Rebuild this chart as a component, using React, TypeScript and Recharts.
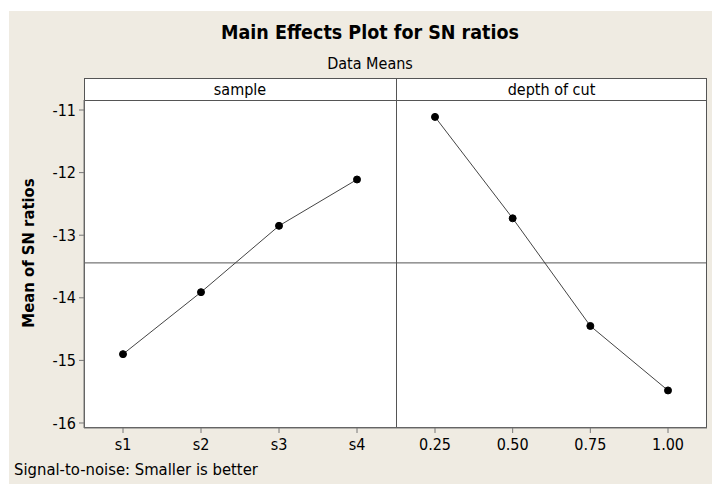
import React from "react";
import {
  LineChart,
  Line,
  XAxis,
  YAxis,
  ReferenceLine,
} from "recharts";

// factor levels and their mean SN ratios
const sampleLevels = ["s1", "s2", "s3", "s4"];
const sampleMeans = [-14.9, -13.91, -12.85, -12.11];

const depthLevels = ["0.25", "0.50", "0.75", "1.00"];
const depthMeans = [-11.11, -12.73, -14.45, -15.48];

const yTicks = [-16, -15, -14, -13, -12, -11];
const yDomain = [-16.08, -10.84];

const FONT = '"DejaVu Sans Condensed", "DejaVu Sans", sans-serif';
const FRAME = "#555";

const sampleData = sampleLevels.map((level, i) => ({ level, mean: sampleMeans[i] }));
const depthData = depthLevels.map((level, i) => ({ level, mean: depthMeans[i] }));

const allMeans = [...sampleMeans, ...depthMeans];
const grandMean = allMeans.reduce((a, b) => a + b, 0) / allMeans.length;

const tickStyle = { fontSize: 16, fill: "#000", fontFamily: FONT };

function Panel({ data, showY }: { data: { level: string; mean: number }[]; showY: boolean }) {
  return (
    <LineChart
      width={showY ? 396 : 316}
      height={484}
      data={data}
      margin={{ top: 100, right: showY ? 0 : 5, left: showY ? 44 : 0, bottom: 26 }}
    >
      <XAxis
        dataKey="level"
        padding={{ left: 39, right: 39 }}
        height={30}
        tick={tickStyle}
        tickSize={5}
        tickMargin={6}
        tickLine={{ stroke: "#777" }}
        axisLine={{ stroke: "#777" }}
      />
      <YAxis
        hide={!showY}
        width={40}
        domain={yDomain}
        ticks={yTicks}
        allowDataOverflow
        tick={tickStyle}
        tickSize={5}
        tickMargin={3}
        tickLine={{ stroke: "#777" }}
        axisLine={{ stroke: "#777" }}
      />
      <ReferenceLine y={grandMean} stroke={FRAME} strokeWidth={1} />
      <Line
        dataKey="mean"
        stroke="#444"
        strokeWidth={1}
        dot={{ r: 3.5, fill: "#000", stroke: "#000", strokeWidth: 1 }}
        isAnimationActive={false}
      />
    </LineChart>
  );
}

export default function App() {
  return (
    <div
      style={{
        position: "absolute",
        left: 0,
        top: 0,
        width: 712,
        height: 484,
        background: "#fff",
        fontFamily: FONT,
        color: "#000",
        overflow: "hidden",
      }}
    >
      <div style={{ position: "absolute", left: 9, top: 11, right: 0, bottom: 0, background: "#EFEBE2" }} />

      {/* titles */}
      <div
        style={{
          position: "absolute",
          left: 170,
          width: 400,
          top: 20,
          textAlign: "center",
          fontSize: 19.5,
          fontWeight: "bold",
          lineHeight: "26px",
        }}
      >
        Main Effects Plot for SN ratios
      </div>
      <div
        style={{
          position: "absolute",
          left: 170,
          width: 400,
          top: 54,
          textAlign: "center",
          fontSize: 16,
          lineHeight: "20px",
        }}
      >
        Data Means
      </div>

      {/* plot frame and strips */}
      <div
        style={{
          position: "absolute",
          left: 84,
          top: 78,
          width: 623,
          height: 350,
          background: "#fff",
          border: `1px solid ${FRAME}`,
          boxSizing: "border-box",
        }}
      />
      <div style={{ position: "absolute", left: 84, top: 100, width: 623, height: 1, background: FRAME }} />
      <div style={{ position: "absolute", left: 396, top: 78, width: 1, height: 350, background: FRAME }} />
      <div style={{ position: "absolute", left: 84, width: 312, top: 79, textAlign: "center", fontSize: 16, lineHeight: "21px" }}>
        sample
      </div>
      <div style={{ position: "absolute", left: 396, width: 311, top: 79, textAlign: "center", fontSize: 16, lineHeight: "21px" }}>
        depth of cut
      </div>

      <div style={{ position: "absolute", left: 0, top: 0 }}>
        <Panel data={sampleData} showY />
      </div>
      <div style={{ position: "absolute", left: 396, top: 0 }}>
        <Panel data={depthData} showY={false} />
      </div>

      {/* y axis title */}
      <div
        style={{
          position: "absolute",
          left: 28,
          top: 253,
          transform: "translate(-50%, -50%) rotate(-90deg)",
          whiteSpace: "nowrap",
          fontSize: 16.5,
          fontWeight: "bold",
        }}
      >
        Mean of SN ratios
      </div>

      <div style={{ position: "absolute", left: 14, top: 460, fontSize: 16.5, lineHeight: "20px" }}>
        Signal-to-noise: Smaller is better
      </div>
    </div>
  );
}
